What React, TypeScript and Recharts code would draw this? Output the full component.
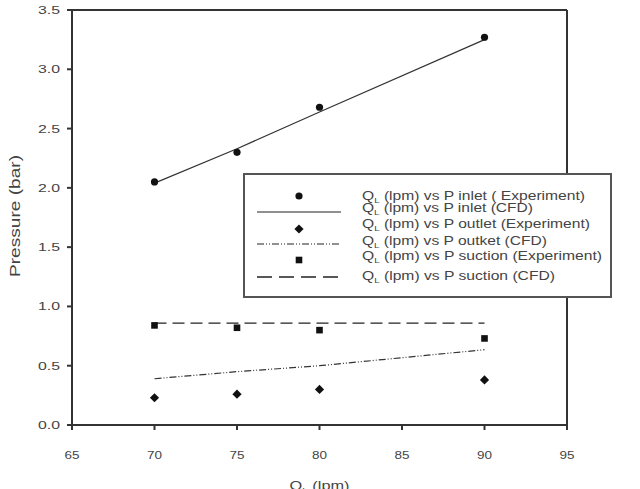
import React from "react";
import {
  ComposedChart,
  Line,
  Scatter,
  XAxis,
  YAxis,
  ReferenceLine,
  Label,
} from "recharts";

const flowRates = [70, 75, 80, 90];
const inletExperiment = [2.05, 2.3, 2.68, 3.27];
const inletCfd = [2.04, 2.33, 2.64, 3.25];
const outletExperiment = [0.23, 0.26, 0.3, 0.38];
const outletCfd = [0.39, 0.45, 0.5, 0.635];
const suctionExperiment = [0.84, 0.82, 0.8, 0.73];
const suctionCfd = [0.86, 0.86, 0.86, 0.86];

const xTicks = [65, 70, 75, 80, 85, 90, 95];
const yTicks = [0, 0.5, 1.0, 1.5, 2.0, 2.5, 3.0, 3.5];

const legendLabels = [
  " (lpm) vs P inlet ( Experiment)",
  " (lpm) vs P inlet (CFD)",
  " (lpm) vs P outlet (Experiment)",
  " (lpm) vs P outket (CFD)",
  " (lpm) vs P suction (Experiment)",
  " (lpm) vs P suction (CFD)",
];
const legendTextEnds = [585, 533, 590, 547, 602, 555];

const data = flowRates.map((q, i) => ({
  q,
  inletExp: inletExperiment[i],
  inletCfd: inletCfd[i],
  outletExp: outletExperiment[i],
  outletCfd: outletCfd[i],
  suctionExp: suctionExperiment[i],
  suctionCfd: suctionCfd[i],
}));

const FONT = "'Liberation Sans', Arial, sans-serif";
const TEXT = "#444";
const AXIS = "#333";

const CircleDot = (props: any) => {
  const { cx, cy } = props;
  if (cx == null || cy == null) return null;
  return <circle cx={cx} cy={cy} r={3.6} fill="#111" />;
};
const DiamondDot = (props: any) => {
  const { cx, cy } = props;
  if (cx == null || cy == null) return null;
  const s = 4.6;
  return (
    <path
      d={`M${cx},${cy - s} L${cx + s},${cy} L${cx},${cy + s} L${cx - s},${cy} Z`}
      fill="#111"
    />
  );
};
const SquareDot = (props: any) => {
  const { cx, cy } = props;
  if (cx == null || cy == null) return null;
  const s = 3.3;
  return <rect x={cx - s} y={cy - s} width={2 * s} height={2 * s} fill="#111" />;
};

const XTick = (props: any) => {
  const { x, y, payload } = props;
  return (
    <text
      x={x}
      y={y + 27}
      textAnchor="middle"
      fontFamily={FONT}
      fontSize={11.5}
      fill={TEXT}
      textLength={15}
      lengthAdjust="spacingAndGlyphs"
    >
      {payload.value}
    </text>
  );
};

const YTick = (props: any) => {
  const { x, y, payload } = props;
  return (
    <text
      x={x - 5}
      y={y + 4}
      textAnchor="end"
      fontFamily={FONT}
      fontSize={11.5}
      fill={TEXT}
      textLength={22}
      lengthAdjust="spacingAndGlyphs"
    >
      {Number(payload.value).toFixed(1)}
    </text>
  );
};

const LEG_LEFT = 243;
const LEG_TOP = 173;

const LegendBox = () => {
  const symX = 56;
  const rowSym = [23, 39, 56, 71, 87, 104];
  const rowText = [27, 39, 55, 72, 87, 107];
  return (
    <svg
      width={370}
      height={126}
      style={{ position: "absolute", left: LEG_LEFT, top: LEG_TOP, display: "block" }}
    >
      <rect x={1} y={1} width={367} height={123} fill="#fff" stroke="#555" strokeWidth={2} />
      <circle cx={symX} cy={rowSym[0]} r={3.6} fill="#111" />
      <line x1={14} x2={98} y1={rowSym[1]} y2={rowSym[1]} stroke="#222" strokeWidth={1.2} />
      <path
        d={`M${symX},${rowSym[2] - 4.6} L${symX + 4.6},${rowSym[2]} L${symX},${rowSym[2] + 4.6} L${symX - 4.6},${rowSym[2]} Z`}
        fill="#111"
      />
      <line
        x1={14}
        x2={98}
        y1={rowSym[3]}
        y2={rowSym[3]}
        stroke="#222"
        strokeWidth={1.2}
        strokeDasharray="7 2 1 2 1 2"
      />
      <rect x={symX - 3.3} y={rowSym[4] - 3.3} width={6.6} height={6.6} fill="#111" />
      <line
        x1={14}
        x2={98}
        y1={rowSym[5]}
        y2={rowSym[5]}
        stroke="#222"
        strokeWidth={1.3}
        strokeDasharray="15 7"
      />
      {legendLabels.map((t, i) => (
        <text
          key={i}
          x={119}
          y={rowText[i]}
          fontFamily={FONT}
          fontSize={12}
          fill={TEXT}
          textLength={legendTextEnds[i] - 362}
          lengthAdjust="spacingAndGlyphs"
        >
          Q
          <tspan fontSize={7.5} dy={3}>L</tspan>
          <tspan dy={-3}>{t}</tspan>
        </text>
      ))}
    </svg>
  );
};

export default function App() {
  return (
    <div
      style={{
        position: "absolute",
        left: 0,
        top: 0,
        width: 640,
        height: 489,
        background: "#fff",
        overflow: "hidden",
      }}
    >
      <ComposedChart
        width={640}
        height={489}
        data={data}
        margin={{ top: 10, right: 73, left: 0, bottom: 0 }}
      >
        <XAxis
          dataKey="q"
          type="number"
          domain={[65, 95]}
          ticks={xTicks}
          interval={0}
          height={64}
          axisLine={{ stroke: AXIS, strokeWidth: 2 }}
          tickLine={{ stroke: AXIS, strokeWidth: 2 }}
          tickSize={5}
          tick={<XTick />}
        >
          <Label
            position="insideBottom"
            offset={0}
            content={(props: any) => {
              const vb = props.viewBox || {};
              const cx = vb.x + vb.width / 2;
              return (
                <text
                  x={cx - 30}
                  y={490}
                  fontFamily={FONT}
                  fontSize={13}
                  fill={TEXT}
                  textLength={60}
                  lengthAdjust="spacingAndGlyphs"
                >
                  Q<tspan fontSize={8} dy={3}>L</tspan>
                  <tspan dy={-3}> (lpm)</tspan>
                </text>
              );
            }}
          />
        </XAxis>
        <YAxis
          type="number"
          domain={[0, 3.5]}
          ticks={yTicks}
          interval={0}
          width={72}
          axisLine={{ stroke: AXIS, strokeWidth: 2 }}
          tickLine={{ stroke: AXIS, strokeWidth: 2 }}
          tickSize={5}
          tick={<YTick />}
        >
          <Label
            position="insideLeft"
            offset={0}
            content={() => {
              const cy = 216;
              return (
                <text
                  x={20}
                  y={cy}
                  transform={`rotate(-90 20 ${cy})`}
                  textAnchor="middle"
                  fontFamily={FONT}
                  fontSize={14}
                  fill={TEXT}
                  textLength={122}
                  lengthAdjust="spacingAndGlyphs"
                >
                  Pressure (bar)
                </text>
              );
            }}
          />
        </YAxis>
        <ReferenceLine y={3.5} stroke={AXIS} strokeWidth={2} />
        <ReferenceLine x={95} stroke={AXIS} strokeWidth={2} />
        <Line
          dataKey="inletCfd"
          stroke="#333"
          strokeWidth={1.2}
          dot={false}
          activeDot={false}
          isAnimationActive={false}
          legendType="none"
        />
        <Line
          dataKey="outletCfd"
          stroke="#333"
          strokeWidth={1.2}
          strokeDasharray="7 2 1 2 1 2"
          dot={false}
          activeDot={false}
          isAnimationActive={false}
          legendType="none"
        />
        <Line
          dataKey="suctionCfd"
          stroke="#222"
          strokeWidth={1.3}
          strokeDasharray="12 6"
          dot={false}
          activeDot={false}
          isAnimationActive={false}
          legendType="none"
        />
        <Scatter dataKey="inletExp" shape={<CircleDot />} isAnimationActive={false} legendType="none" />
        <Scatter dataKey="outletExp" shape={<DiamondDot />} isAnimationActive={false} legendType="none" />
        <Scatter dataKey="suctionExp" shape={<SquareDot />} isAnimationActive={false} legendType="none" />
      </ComposedChart>
      <LegendBox />
    </div>
  );
}
